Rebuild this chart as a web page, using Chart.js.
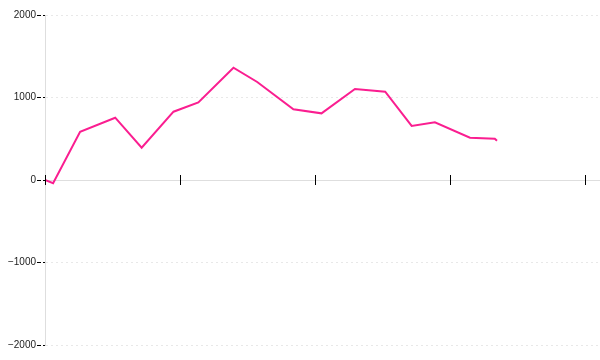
<!DOCTYPE html>
<html>
<head>
<meta charset="utf-8">
<script src="https://cdn.jsdelivr.net/npm/chart.js@4.4.1/dist/chart.umd.min.js"></script>
<style>
  html, body { margin: 0; padding: 0; background: #fff; }
  #wrap { width: 600px; height: 360px; }
</style>
</head>
<body>
<div id="wrap"><canvas id="myChart"></canvas></div>
<script>
// Data

var xValues = [0, 1.5, 6.5, 13, 17.9, 23.8, 28.4, 34.9, 39.3, 46, 51.2, 57.4, 63, 67.9, 72.2, 78.7, 83.3, 83.7]
var yValues = [0, -40, 585, 755, 392, 828, 941, 1361, 1188, 857, 808, 1103, 1070, 655, 699, 513, 500, 475]
var yTicks = [-2000, -1000, 0, 1000, 2000]
var xTicks = [0, 25, 50, 75, 100]

var points = xValues.map((x, i) => ({ x: x, y: yValues[i] }))

// tick marks that cross the centred x axis
var crossTicks = {
    id: 'crossTicks',
    afterDraw: chart => {
        var ctx = chart.ctx
        var xs = chart.scales.x
        var y0 = chart.scales.y.getPixelForValue(0)
        ctx.save()
        ctx.strokeStyle = '#000'
        ctx.lineWidth = 1
        xTicks.forEach(t => {
            var px = Math.round(xs.getPixelForValue(t)) + 0.5
            ctx.beginPath()
            ctx.moveTo(px, y0 - 5)
            ctx.lineTo(px, y0 + 5)
            ctx.stroke()
        })
        ctx.restore()
    }
}

var ctx = document.getElementById('myChart').getContext('2d')

new Chart(ctx, {
    type: 'line',
    data: {
        datasets: [{
            data: points,
            borderColor: '#fa1e90',
            borderWidth: 2,
            pointRadius: 0,
            tension: 0,
            fill: false,
        }]
    },
    options: {
        responsive: true,
        maintainAspectRatio: false,
        animation: false,
        layout: { padding: { top: 15, bottom: 15, left: 0, right: 0 } },
        plugins: {
            legend: { display: false },
            tooltip: { enabled: false },
        },
        scales: {
            x: {
                type: 'linear',
                position: { y: 0 },
                min: 0,
                max: 555 / 5.4,
                afterBuildTicks: scale => { scale.ticks = xTicks.map(v => ({ value: v })) },
                ticks: { display: false },
                grid: { drawOnChartArea: false, drawTicks: false },
                border: { color: '#dedede', width: 1 },
            },
            y: {
                min: -2000,
                max: 2000,
                afterBuildTicks: scale => { scale.ticks = yTicks.map(v => ({ value: v })) },
                afterFit: scale => { scale.width = 45 },
                ticks: {
                    padding: 1,
                    color: '#222',
                    font: { family: 'Liberation Sans', size: 10 },
                    callback: v => v < 0 ? '\u2212' + Math.abs(v) : String(v),
                },
                grid: {
                    color: '#e8e8e8',
                    tickColor: '#000',
                    tickLength: 8,
                    tickBorderDash: [4, 2],
                },
                border: { color: '#dedede', width: 1, dash: [2, 3] },
            }
        }
    },
    plugins: [crossTicks]
})
</script>
</body>
</html>
